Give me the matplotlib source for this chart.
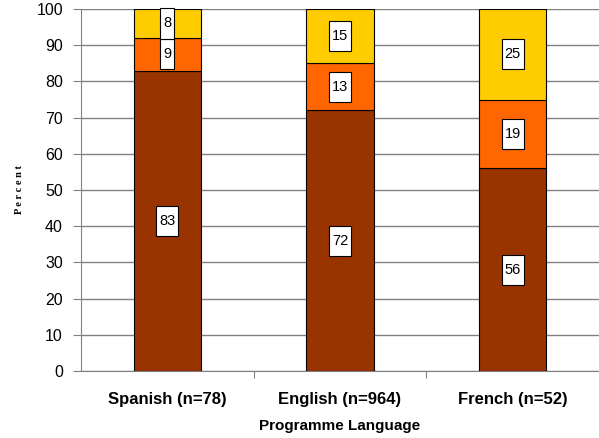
import matplotlib.pyplot as plt
import numpy as np
from matplotlib.path import Path

plt.rcParams['font.family'] = ['Liberation Sans', 'DejaVu Sans']

categories = ['Spanish (n=78)', 'English (n=964)', 'French (n=52)']
bottom_vals = [83, 72, 56]
middle_vals = [9, 13, 19]
top_vals = [8, 15, 25]
colors = ['#993300', '#FF6600', '#FFCC00']


def tall_box(x0, y0, width, height, mutation_size):
    # white label box, taller than it is wide (like the original)
    px = 0.2 * mutation_size
    py = 0.55 * mutation_size
    x0, y0 = x0 - px, y0 - py
    x1, y1 = x0 + width + 2 * px, y0 + height + 2 * py
    return Path([(x0, y0), (x1, y0), (x1, y1), (x0, y1), (x0, y0)], closed=True)


fig = plt.figure(figsize=(5.99, 4.38), dpi=100)
ax = fig.add_axes([81 / 599, 1 - 371 / 438, 518 / 599, 362 / 438])

x = np.arange(len(categories))
w = 0.39
bottoms = np.zeros(len(categories))
for vals, c in zip([bottom_vals, middle_vals, top_vals], colors):
    ax.bar(x, vals, w, bottom=bottoms, color=c, edgecolor='black', linewidth=0.8, zorder=3)
    for xi, b, v in zip(x, bottoms, vals):
        ax.text(xi, b + v / 2, str(v), ha='center', va='center', fontsize=10.5, zorder=5,
                bbox=dict(boxstyle=tall_box, fc='white', ec='black', lw=0.8))
    bottoms += np.array(vals)

ax.set_xlim(-0.5, 2.5)
ax.set_ylim(0, 100)
ax.set_yticks(range(0, 101, 10))
ax.yaxis.grid(True, color='#808080', linewidth=1, zorder=0)
ax.set_axisbelow(True)

ax.set_xticks([0.5, 1.5])
ax.set_xticklabels([])
ax.set_xticks(x, minor=True)
ax.set_xticklabels(categories, minor=True, fontweight='bold', fontsize=12)
ax.tick_params(axis='x', which='minor', length=0, pad=15)
ax.tick_params(axis='x', which='major', length=5, color='#808080')
ax.tick_params(axis='y', length=6, color='#808080', labelsize=11.5, pad=7)

for s in ['top', 'right']:
    ax.spines[s].set_visible(False)
for s in ['left', 'bottom']:
    ax.spines[s].set_color('#808080')

ax.set_xlabel('Programme Language', fontweight='bold', fontsize=11, labelpad=9)
ax.set_ylabel('P e r c e n t', family='Liberation Serif', fontweight='bold', fontsize=7.5, labelpad=9)

fig.savefig('out.png', dpi=100)
